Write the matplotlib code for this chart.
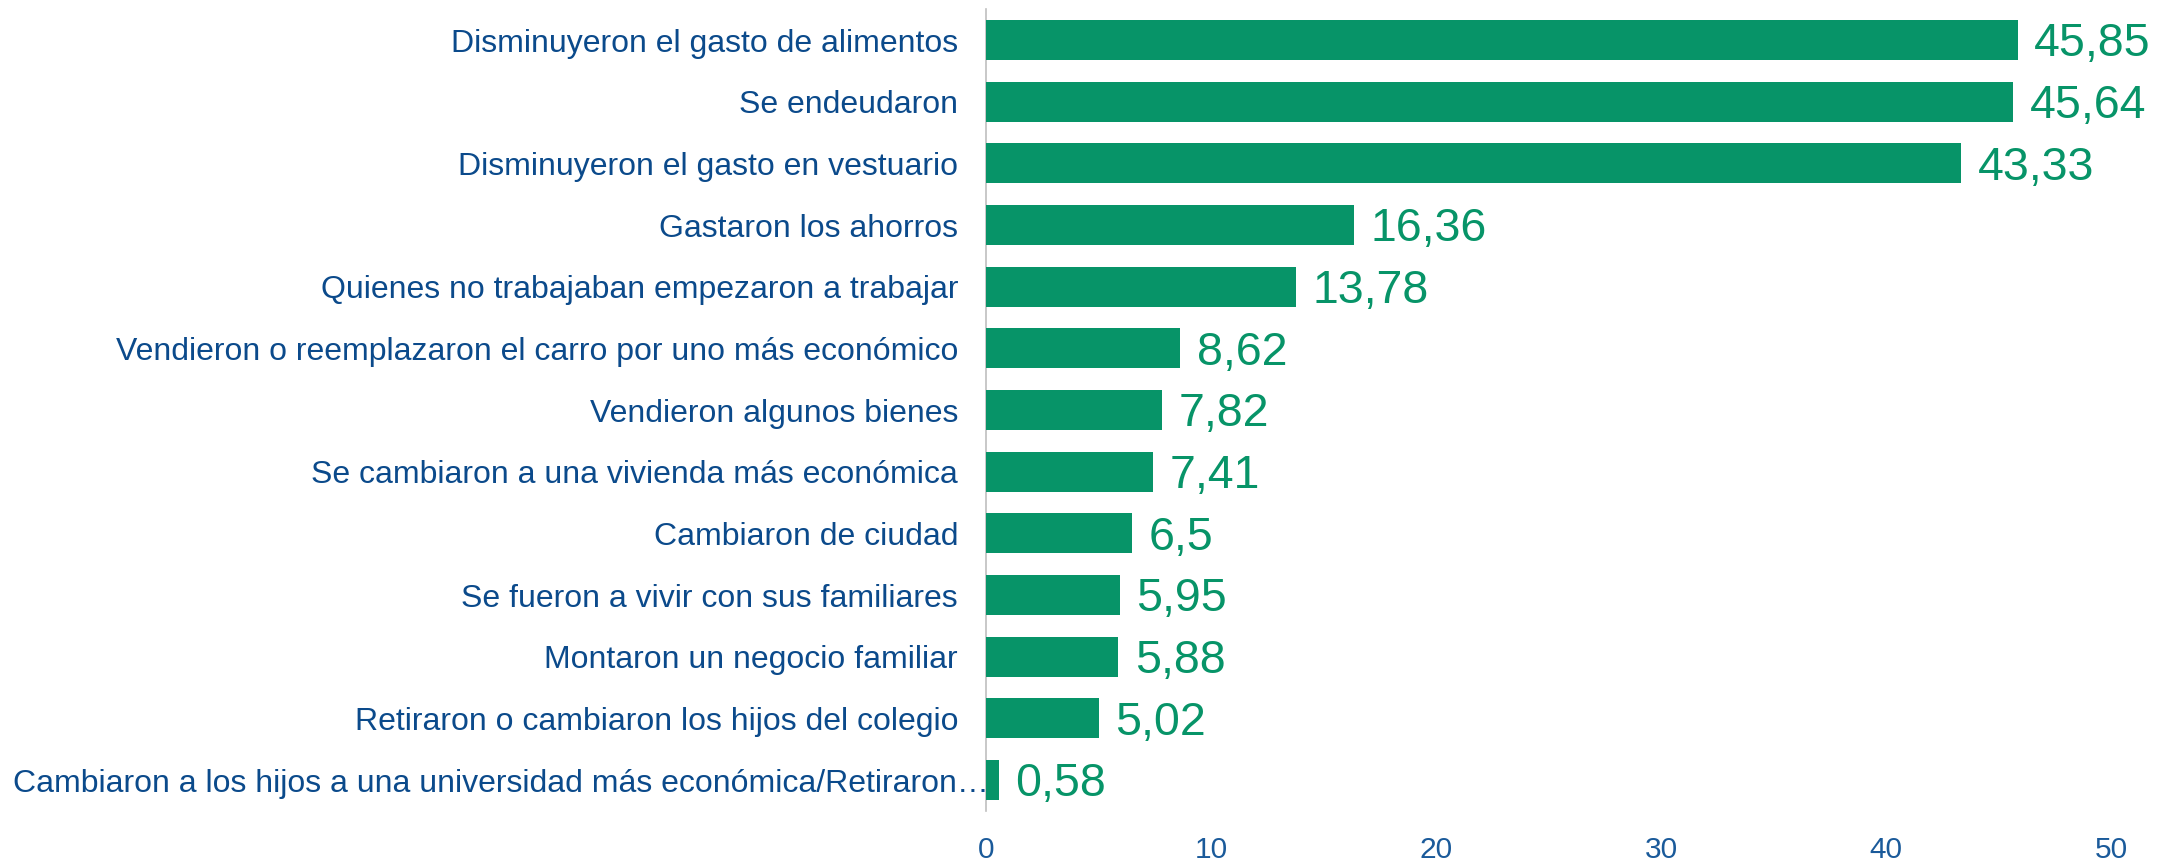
import matplotlib
matplotlib.use("Agg")
import matplotlib.pyplot as plt
import matplotlib.transforms as mtransforms

categories = [
    "Disminuyeron el gasto de alimentos",
    "Se endeudaron",
    "Disminuyeron el gasto en vestuario",
    "Gastaron los ahorros",
    "Quienes no trabajaban empezaron a trabajar",
    "Vendieron o reemplazaron el carro por uno más económico",
    "Vendieron algunos bienes",
    "Se cambiaron a una vivienda más económica",
    "Cambiaron de ciudad",
    "Se fueron a vivir con sus familiares",
    "Montaron un negocio familiar",
    "Retiraron o cambiaron los hijos del colegio",
    "Cambiaron a los hijos a una universidad más económica/Retiraron…",
]
values = [45.85, 45.64, 43.33, 16.36, 13.78, 8.62, 7.82, 7.41, 6.5, 5.95, 5.88, 5.02, 0.58]
value_labels = ["45,85", "45,64", "43,33", "16,36", "13,78", "8,62", "7,82",
                "7,41", "6,5", "5,95", "5,88", "5,02", "0,58"]
xticks = [0, 10, 20, 30, 40, 50]

GREEN = "#079468"
LABEL_BLUE = "#0B4A8B"
TICK_BLUE = "#1A5A9A"

plt.rcParams["font.family"] = ["Liberation Sans", "DejaVu Sans"]

fig = plt.figure(figsize=(21.62, 8.63), dpi=100)
ax = fig.add_axes([0.456, 0.0603, 0.9764 - 0.456, 0.929])

y = list(range(len(categories)))
ax.barh(y, values, height=0.65, color=GREEN, zorder=3)

for yi, v, lab in zip(y, values, value_labels):
    ax.annotate(lab, xy=(v, yi), xytext=(12, -3), textcoords="offset points",
                ha="left", va="center", fontsize=33.5, color=GREEN)

ax.set_ylim(len(categories) - 0.5, -0.5)
ax.set_xlim(0, 50)
ax.set_yticks(y)
ax.set_yticklabels(categories, fontsize=23, color=LABEL_BLUE)
ax.set_xticks(xticks)
ax.set_xticklabels([str(t) for t in xticks], fontsize=21.5, color=TICK_BLUE)
ax.tick_params(axis="y", length=0, pad=20)
ax.tick_params(axis="x", length=0, pad=18)

for s in ["top", "right", "bottom"]:
    ax.spines[s].set_visible(False)
ax.spines["left"].set_color("#BFBFBF")
ax.spines["left"].set_linewidth(1.2)

# last label sticks out past the others in the original
last = ax.get_yticklabels()[-1]
last.set_transform(last.get_transform() + mtransforms.ScaledTranslation(31 / 100, 0, fig.dpi_scale_trans))

fig.savefig("out.png", dpi=100)
